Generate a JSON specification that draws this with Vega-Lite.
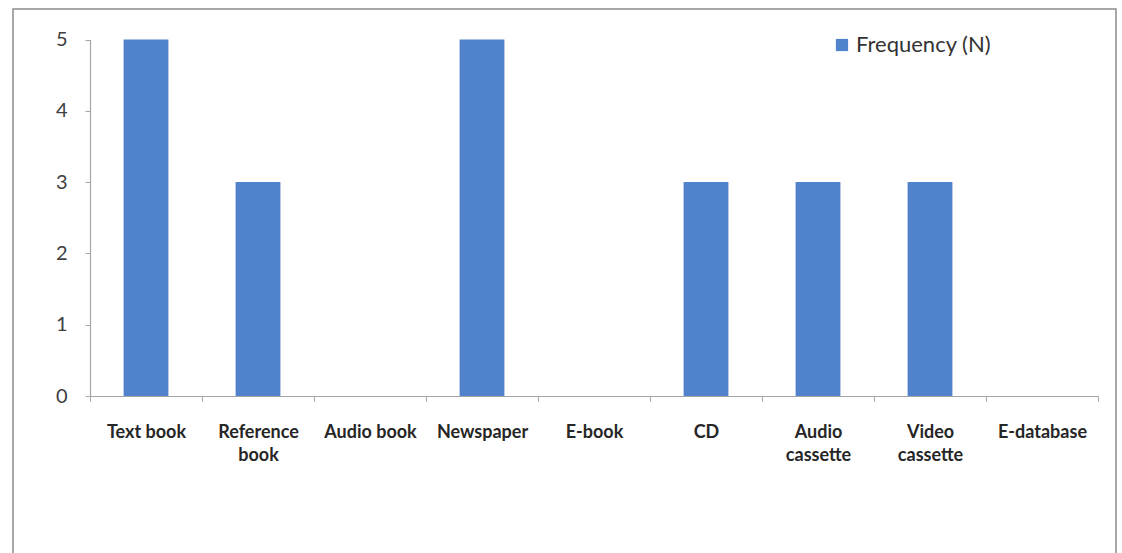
{
  "$schema": "https://vega.github.io/schema/vega-lite/v6.json",
  "autosize": {"type": "none"},
  "padding": {"left": 13, "top": 9, "right": 6, "bottom": 0},
  "width": 1103,
  "height": 560,
  "background": "white",
  "config": {
    "view": {"stroke": "#8c8c8c", "strokeWidth": 1.5},
    "font": "Lato"
  },
  "data": {
    "values": [
      {"medium": "Text book", "frequency": 5},
      {"medium": "Reference book", "frequency": 3},
      {"medium": "Audio book", "frequency": 0},
      {"medium": "Newspaper", "frequency": 5},
      {"medium": "E-book", "frequency": 0},
      {"medium": "CD", "frequency": 3},
      {"medium": "Audio cassette", "frequency": 3},
      {"medium": "Video cassette", "frequency": 3},
      {"medium": "E-database", "frequency": 0}
    ]
  },
  "mark": {"type": "bar", "width": {"band": 0.4}},
  "encoding": {
    "x": {
      "field": "medium",
      "type": "nominal",
      "sort": null,
      "scale": {"range": [77, 1085], "paddingInner": 0, "paddingOuter": 0},
      "axis": {
        "title": null,
        "offset": -173,
        "labelAngle": 0,
        "tickBand": "extent",
        "tickSize": 5,
        "tickColor": "#a6a6a6",
        "domainColor": "#a6a6a6",
        "domainWidth": 1.2,
        "labelFont": "Lato",
        "labelFontWeight": "bold",
        "labelFontSize": 18,
        "labelColor": "#262626",
        "labelPadding": 22,
        "labelBaseline": "top",
        "labelLineHeight": 23,
        "labelExpr": "indexof(['Reference book', 'Audio cassette', 'Video cassette'], datum.value) >= 0 ? split(datum.value, ' ') : datum.value"
      }
    },
    "y": {
      "field": "frequency",
      "type": "quantitative",
      "scale": {"domain": [0, 5], "range": [387, 30.5], "nice": false},
      "axis": {
        "title": null,
        "offset": -77,
        "values": [0, 1, 2, 3, 4, 5],
        "grid": false,
        "tickSize": 5,
        "tickColor": "#a6a6a6",
        "domainColor": "#a6a6a6",
        "domainWidth": 1.2,
        "labelFont": "Lato",
        "labelFontSize": 20,
        "labelColor": "#404040",
        "labelPadding": 18
      }
    },
    "color": {
      "datum": "Frequency (N)",
      "type": "nominal",
      "scale": {"range": ["#5083cc"]},
      "legend": {
        "title": null,
        "orient": "none",
        "legendX": 818,
        "legendY": 25,
        "symbolType": "square",
        "symbolSize": 150,
        "labelFont": "Lato",
        "labelFontSize": 22,
        "labelColor": "#333333",
        "labelOffset": 3
      }
    }
  }
}
